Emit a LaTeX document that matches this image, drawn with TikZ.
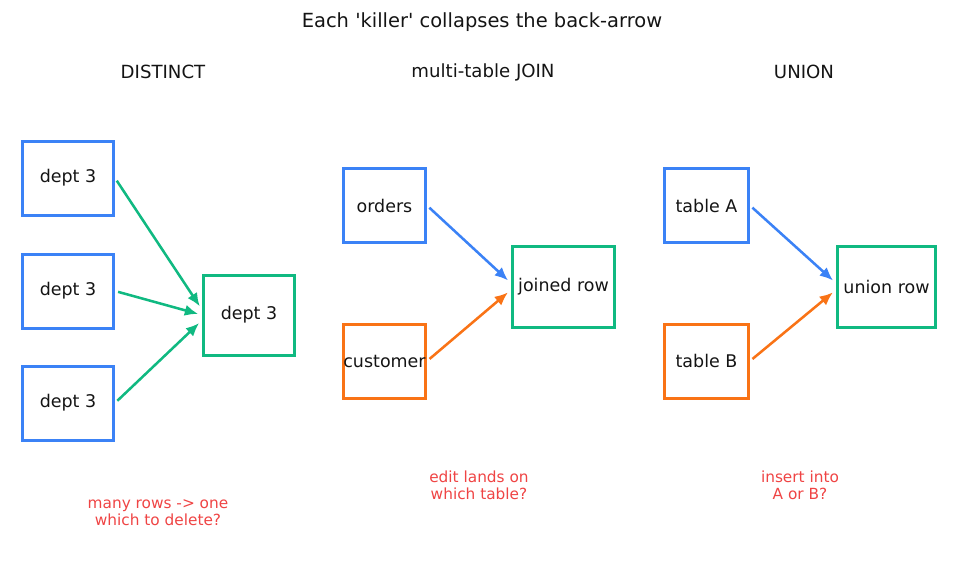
\documentclass[tikz,border=0pt]{standalone}
\usepackage{fontspec}
\setmainfont{DejaVu Sans}
\usetikzlibrary{arrows.meta}
\definecolor{srcblue}{HTML}{3B82F6}
\definecolor{srcorange}{HTML}{F97316}
\definecolor{resgreen}{HTML}{10B981}
\definecolor{notered}{HTML}{EF4444}
\definecolor{inkgray}{HTML}{141414}
\begin{document}
\begin{tikzpicture}[x=0.75pt,y=-0.75pt,
    box/.style={draw,line width=2.25pt,inner sep=0pt,minimum height=55.5pt,text=inkgray,
      font=\fontsize{13.1}{15}\selectfont},
    srcbox/.style={box,draw=srcblue},
    altbox/.style={box,draw=srcorange},
    resbox/.style={box,draw=resgreen,minimum height=60.75pt},
    heading/.style={text=inkgray,font=\fontsize{13.6}{16}\selectfont},
    note/.style={text=notered,align=center,font=\fontsize{11.5}{12.6}\selectfont},
    link/.style={-{Latex[length=10pt,width=8.5pt]},line width=1.9pt,shorten <=2.4pt,shorten >=3pt}]
  \useasboundingbox (0,0) rectangle (965,583);

  \node[text=inkgray,font=\fontsize{14.6}{17}\selectfont] (title) at (482,22) {Each \textquotesingle killer\textquotesingle\ collapses the back-arrow};

  % DISTINCT
  \node[heading] (hdistinct) at (163,72) {DISTINCT};
  \node[srcbox,minimum width=68.25pt] (dup1) at (68,178) {dept 3};
  \node[srcbox,minimum width=68.25pt] (dup2) at (68,291) {dept 3};
  \node[srcbox,minimum width=68.25pt] (dup3) at (68,403) {dept 3};
  \node[resbox,minimum width=68.25pt,minimum height=60pt] (single) at (249,315) {dept 3};
  \draw[link,color=resgreen] (dup1.east) -- ([yshift=4pt]single.west);
  \draw[link,color=resgreen] (dup2.east) -- (single.west);
  \draw[link,color=resgreen] (dup3.east) -- ([yshift=-4pt]single.west);
  \node[note] (ndistinct) at (158,513) {many rows -> one\\which to delete?};

  % multi-table JOIN
  \node[heading] (hjoin) at (483,72) {multi-table JOIN};
  \node[srcbox,minimum width=61.5pt] (orders) at (384.5,205.5) {orders};
  \node[altbox,minimum width=61.5pt] (customer) at (384.5,361) {customer};
  \node[resbox,minimum width=76.5pt] (joined) at (563.5,286.5) {joined row};
  \draw[link,color=srcblue] (orders.east) -- ([yshift=2.5pt]joined.west);
  \draw[link,color=srcorange] (customer.east) -- ([yshift=-2.5pt]joined.west);
  \node[note] (njoin) at (479,485) {edit lands on\\which table?};

  % UNION
  \node[heading] (hunion) at (804,72) {UNION};
  \node[srcbox,minimum width=63pt] (tablea) at (706.5,205.5) {table A};
  \node[altbox,minimum width=63pt] (tableb) at (706.5,361) {table B};
  \node[resbox,minimum width=73.5pt] (unionrow) at (886.5,286.5) {union row};
  \draw[link,color=srcblue] (tablea.east) -- ([yshift=2.5pt]unionrow.west);
  \draw[link,color=srcorange] (tableb.east) -- ([yshift=-2.5pt]unionrow.west);
  \node[note] (nunion) at (800,485) {insert into\\A or B?};
\end{tikzpicture}
\end{document}
